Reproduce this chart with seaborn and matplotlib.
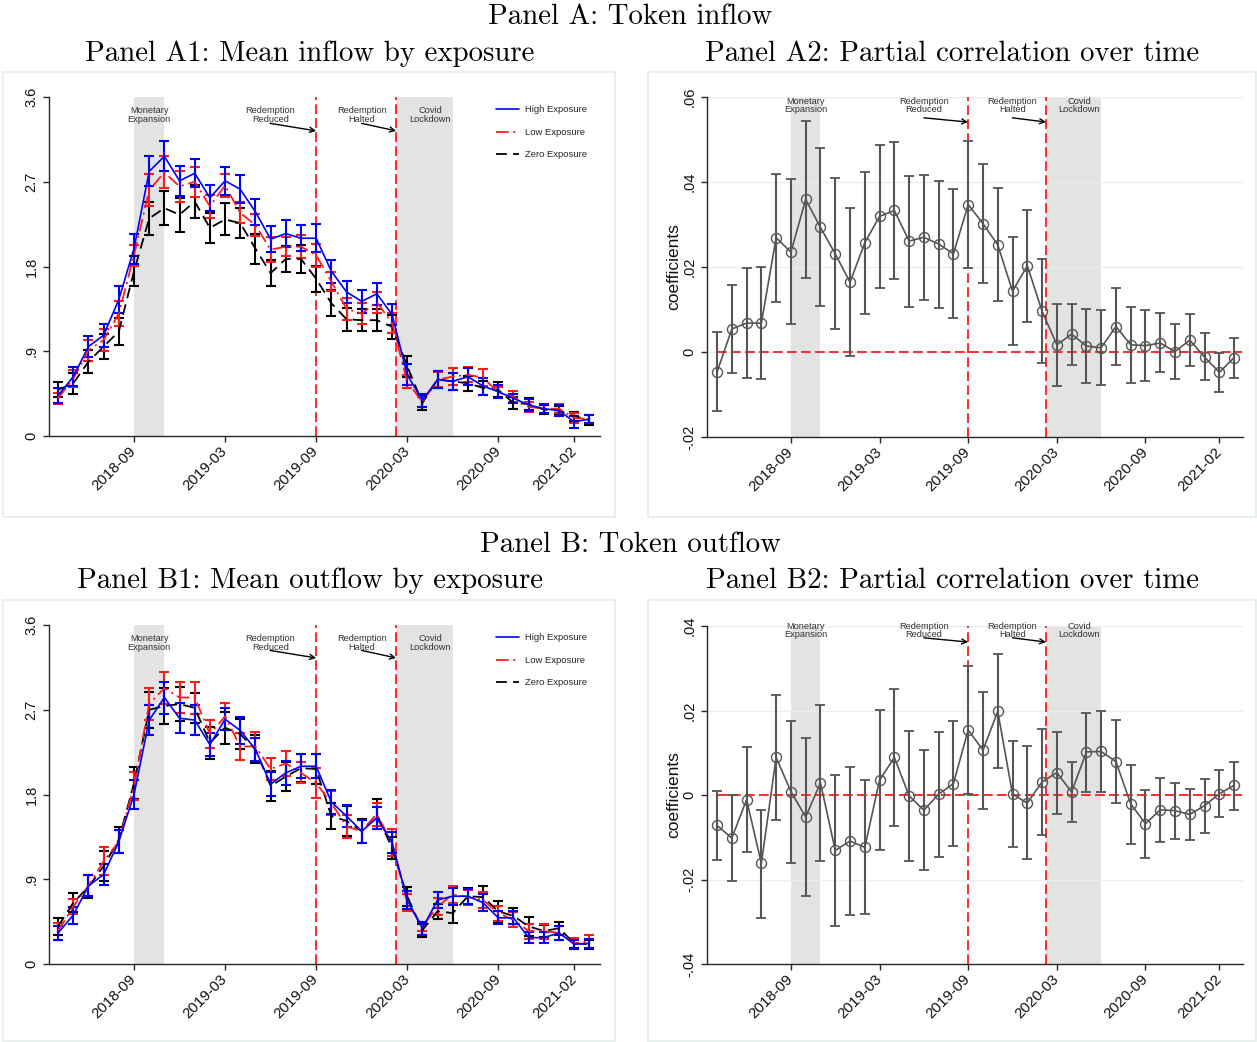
import numpy as np
import pandas as pd
import matplotlib
matplotlib.use("Agg")
import matplotlib.pyplot as plt
import seaborn as sns
from matplotlib.patches import Rectangle

# ---------------- data ----------------
months = ['2018-04', '2018-05', '2018-06', '2018-07', '2018-08', '2018-09',
          '2018-10', '2018-11', '2018-12', '2019-01', '2019-02', '2019-03',
          '2019-04', '2019-05', '2019-06', '2019-07', '2019-08', '2019-09',
          '2019-10', '2019-11', '2019-12', '2020-01', '2020-02', '2020-03',
          '2020-04', '2020-05', '2020-06', '2020-07', '2020-08', '2020-09',
          '2020-10', '2020-11', '2020-12', '2021-01', '2021-02', '2021-03']
tick_months = ['2018-09', '2019-03', '2019-09', '2020-03', '2020-09', '2021-02']
series_names = ['High Exposure', 'Low Exposure', 'Zero Exposure']

# Panel A1: mean inflow (with 95% CI half-widths)
in_high = [0.43, 0.63, 0.95, 1.07, 1.45, 1.99, 2.81, 2.97, 2.71, 2.79, 2.53, 2.71,
           2.62, 2.38, 2.09, 2.15, 2.10, 2.10, 1.75, 1.53, 1.43, 1.51, 1.29, 0.65,
           0.38, 0.60, 0.58, 0.63, 0.53, 0.47, 0.40, 0.33, 0.29, 0.27, 0.15, 0.18]
in_high_ci = [0.08, 0.10, 0.11, 0.12, 0.14, 0.16, 0.16, 0.16, 0.16, 0.15, 0.14, 0.15,
              0.15, 0.14, 0.14, 0.14, 0.14, 0.15, 0.12, 0.12, 0.12, 0.12, 0.11, 0.11,
              0.07, 0.09, 0.09, 0.09, 0.09, 0.07, 0.05, 0.06, 0.05, 0.06, 0.06, 0.04]
in_low = [0.40, 0.61, 0.91, 1.02, 1.30, 1.92, 2.61, 2.80, 2.65, 2.70, 2.44, 2.66,
          2.37, 2.24, 1.98, 2.01, 2.01, 1.92, 1.64, 1.35, 1.30, 1.42, 1.20, 0.58,
          0.36, 0.60, 0.63, 0.65, 0.62, 0.46, 0.42, 0.31, 0.29, 0.29, 0.19, 0.18]
in_low_ci = [0.06, 0.09, 0.11, 0.12, 0.13, 0.11, 0.17, 0.17, 0.16, 0.16, 0.12, 0.12,
             0.11, 0.12, 0.13, 0.10, 0.12, 0.12, 0.10, 0.12, 0.11, 0.11, 0.11, 0.07,
             0.05, 0.08, 0.09, 0.08, 0.09, 0.06, 0.06, 0.05, 0.05, 0.05, 0.05, 0.04]
in_zero = [0.49, 0.56, 0.79, 0.95, 1.11, 1.75, 2.31, 2.42, 2.35, 2.49, 2.21, 2.30,
           2.26, 1.99, 1.73, 1.88, 1.88, 1.67, 1.41, 1.24, 1.23, 1.23, 1.16, 0.74,
           0.35, 0.60, 0.58, 0.56, 0.51, 0.49, 0.35, 0.34, 0.28, 0.27, 0.21, 0.17]
in_zero_ci = [0.08, 0.11, 0.12, 0.13, 0.14, 0.16, 0.18, 0.18, 0.18, 0.18, 0.16, 0.17,
              0.16, 0.16, 0.14, 0.14, 0.15, 0.14, 0.14, 0.12, 0.12, 0.12, 0.13, 0.11,
              0.07, 0.09, 0.09, 0.08, 0.07, 0.08, 0.06, 0.06, 0.05, 0.05, 0.05, 0.05]

# Panel B1: mean outflow
out_high = [0.33, 0.52, 0.83, 0.95, 1.30, 1.80, 2.59, 2.83, 2.61, 2.59, 2.33, 2.60,
            2.48, 2.28, 1.91, 2.03, 2.10, 2.10, 1.72, 1.57, 1.41, 1.55, 1.29, 0.68,
            0.38, 0.68, 0.72, 0.72, 0.65, 0.49, 0.49, 0.28, 0.28, 0.33, 0.21, 0.22]
out_high_ci = [0.07, 0.09, 0.11, 0.11, 0.12, 0.15, 0.16, 0.17, 0.16, 0.16, 0.12, 0.12,
               0.14, 0.12, 0.13, 0.13, 0.13, 0.13, 0.13, 0.12, 0.12, 0.12, 0.11, 0.10,
               0.07, 0.08, 0.09, 0.08, 0.09, 0.07, 0.07, 0.06, 0.06, 0.07, 0.05, 0.05]
out_low = [0.35, 0.61, 0.83, 1.09, 1.30, 1.89, 2.76, 2.93, 2.83, 2.83, 2.44, 2.63,
           2.31, 2.31, 2.07, 2.13, 2.03, 1.92, 1.71, 1.46, 1.41, 1.59, 1.29, 0.65,
           0.40, 0.61, 0.74, 0.71, 0.68, 0.54, 0.47, 0.35, 0.35, 0.33, 0.22, 0.24]
out_low_ci = [0.09, 0.08, 0.11, 0.15, 0.12, 0.15, 0.17, 0.17, 0.16, 0.17, 0.15, 0.14,
              0.14, 0.15, 0.12, 0.13, 0.11, 0.16, 0.13, 0.12, 0.12, 0.12, 0.14, 0.09,
              0.05, 0.09, 0.09, 0.08, 0.08, 0.08, 0.08, 0.08, 0.08, 0.07, 0.06, 0.07]
out_zero = [0.40, 0.65, 0.82, 1.04, 1.32, 1.92, 2.70, 2.74, 2.76, 2.72, 2.35, 2.51,
            2.44, 2.28, 1.89, 1.99, 2.08, 2.07, 1.57, 1.52, 1.41, 1.59, 1.23, 0.72,
            0.36, 0.56, 0.54, 0.72, 0.71, 0.56, 0.51, 0.40, 0.35, 0.38, 0.22, 0.21]
out_zero_ci = [0.09, 0.10, 0.12, 0.16, 0.14, 0.17, 0.19, 0.19, 0.18, 0.16, 0.17, 0.17,
               0.16, 0.15, 0.16, 0.15, 0.15, 0.16, 0.14, 0.16, 0.13, 0.16, 0.12, 0.10,
               0.07, 0.08, 0.10, 0.09, 0.12, 0.11, 0.08, 0.10, 0.06, 0.07, 0.05, 0.05]

# Panel A2: partial correlation (inflow), coefficient and CI bounds
in_coef = [-0.0047, 0.0054, 0.0068, 0.0068, 0.0269, 0.0235, 0.0359, 0.0293, 0.0231,
           0.0164, 0.0257, 0.0319, 0.0333, 0.0261, 0.0270, 0.0254, 0.0231, 0.0347,
           0.0302, 0.0252, 0.0143, 0.0203, 0.0096, 0.0017, 0.0042, 0.0014, 0.0010,
           0.0060, 0.0017, 0.0015, 0.0021, 0.0001, 0.0028, -0.0012, -0.0048, -0.0013]
in_lo = [-0.0139, -0.0050, -0.0060, -0.0064, 0.0118, 0.0065, 0.0173, 0.0108, 0.0054,
         -0.0010, 0.0090, 0.0150, 0.0171, 0.0107, 0.0122, 0.0103, 0.0081, 0.0198,
         0.0162, 0.0120, 0.0017, 0.0071, -0.0027, -0.0080, -0.0030, -0.0074, -0.0078,
         -0.0030, -0.0072, -0.0068, -0.0048, -0.0063, -0.0033, -0.0067, -0.0094, -0.0060]
in_hi = [0.0046, 0.0157, 0.0197, 0.0200, 0.0418, 0.0408, 0.0544, 0.0479, 0.0409,
         0.0340, 0.0424, 0.0487, 0.0495, 0.0415, 0.0417, 0.0403, 0.0383, 0.0497,
         0.0442, 0.0385, 0.0270, 0.0334, 0.0219, 0.0113, 0.0113, 0.0102, 0.0098,
         0.0150, 0.0105, 0.0099, 0.0092, 0.0065, 0.0090, 0.0044, -0.0003, 0.0032]

# Panel B2: partial correlation (outflow)
out_coef = [-0.0072, -0.0102, -0.0011, -0.0162, 0.0089, 0.0008, -0.0052, 0.0029, -0.0131,
            -0.0109, -0.0124, 0.0035, 0.0089, -0.0002, -0.0036, 0.0002, 0.0027, 0.0154,
            0.0106, 0.0198, 0.0002, -0.0019, 0.0031, 0.0053, 0.0007, 0.0102, 0.0103,
            0.0079, -0.0021, -0.0068, -0.0035, -0.0037, -0.0046, -0.0025, 0.0003, 0.0023]
out_lo = [-0.0154, -0.0203, -0.0134, -0.0290, -0.0058, -0.0160, -0.0239, -0.0157, -0.0309,
          -0.0283, -0.0282, -0.0131, -0.0073, -0.0156, -0.0178, -0.0146, -0.0121, 0.0002,
          -0.0032, 0.0064, -0.0124, -0.0151, -0.0094, -0.0044, -0.0063, 0.0008, 0.0006,
          -0.0020, -0.0116, -0.0150, -0.0111, -0.0103, -0.0106, -0.0089, -0.0051, -0.0035]
out_hi = [0.0009, 0.0000, 0.0113, -0.0035, 0.0237, 0.0176, 0.0135, 0.0214, 0.0048,
          0.0066, 0.0035, 0.0201, 0.0250, 0.0151, 0.0106, 0.0149, 0.0176, 0.0306,
          0.0243, 0.0334, 0.0127, 0.0115, 0.0157, 0.0150, 0.0077, 0.0195, 0.0200,
          0.0178, 0.0072, 0.0013, 0.0040, 0.0029, 0.0015, 0.0038, 0.0058, 0.0077]

# events (month-index positions)
event_labels = ['Monetary\nExpansion', 'Redemption\nReduced', 'Redemption\nHalted', 'Covid\nLockdown']
event_label_x = [6.0, 14.0, 20.0, 24.5]
event_lines = [17.0, 22.27]
shade_spans = [(5.0, 7.0), (22.27, 26.0)]

# ---------------- style ----------------
sns.set_theme(style="white")
plt.rcParams['font.family'] = ['Liberation Sans', 'DejaVu Sans']

W, H = 1257, 1042
fig = plt.figure(figsize=(W / 100, H / 100), dpi=100)
fig.patch.set_facecolor('white')

x = np.arange(len(months))
tick_pos = [months.index(m) for m in tick_months]
AXC = '#262626'
TITLE_FONT = 'cmr10'


def add_ax(l, t, r, b):
    return fig.add_axes([l / W, 1 - b / H, (r - l) / W, (b - t) / H])


def panel_box(l, t, r, b):
    fig.add_artist(Rectangle((l / W, 1 - b / H), (r - l) / W, (b - t) / H,
                             transform=fig.transFigure, fill=False,
                             ec='#e4eded', lw=1.2, zorder=0))


def style_axes(ax, xlim, ylim, yticks, ylabels):
    ax.set_xlim(*xlim)
    ax.set_ylim(*ylim)
    ax.set_yticks(yticks)
    ax.set_yticklabels(ylabels, rotation=90, va='center', fontsize=10.5, color='#111')
    ax.set_xticks(tick_pos)
    ax.set_xticklabels(tick_months, rotation=45, ha='right', va='center',
                       rotation_mode='anchor', fontsize=10.8, color='#111')
    for s in ['top', 'right']:
        ax.spines[s].set_visible(False)
    for s in ['left', 'bottom']:
        ax.spines[s].set_color(AXC)
        ax.spines[s].set_linewidth(1.0)
    ax.tick_params(axis='both', bottom=True, left=True, length=4.5, width=1,
                   color=AXC, direction='out')
    ax.tick_params(axis='x', pad=5)
    ax.tick_params(axis='y', pad=3)
    ax.set_xlabel('')
    ax.set_ylabel('')
    ax.set_facecolor('white')


def add_events(ax, y_text, arrows):
    for a, b in shade_spans:
        ax.axvspan(a, b, color='#e3e3e3', lw=0, zorder=0)
    for xv in event_lines:
        ax.axvline(xv, color='#ff2a2a', lw=1.4, ls=(0, (5, 2.2)), zorder=1)
    for lab, xt in zip(event_labels, event_label_x):
        ax.text(xt, y_text, lab, ha='center', va='center', fontsize=6.7,
                color='#333333', linespacing=0.95, zorder=5)
    for (x0, y0), (x1, y1) in arrows:
        ax.annotate('', xy=(x1, y1), xytext=(x0, y0),
                    arrowprops=dict(arrowstyle='->', color='black', lw=1.0,
                                    shrinkA=0, shrinkB=0, mutation_scale=9),
                    zorder=5)


def mean_panel(ax, high, high_ci, low, low_ci, zero, zero_ci):
    df = pd.DataFrame({'x': x, 'high': high, 'low': low, 'zero': zero})
    specs = [
        ('zero', zero_ci, 'black', (0, (6, 3.5)), series_names[2], 1.3),
        ('low', low_ci, '#ff1a1a', (0, (7, 2.5, 1.2, 2.5)), series_names[1], 1.3),
        ('high', high_ci, '#0000ff', '-', series_names[0], 1.2),
    ]
    for col, ci, color, ls, label, lw in specs:
        ax.errorbar(df['x'], df[col], yerr=ci, fmt='none', ecolor=color,
                    elinewidth=1.5, capsize=3.6, capthick=1.5, zorder=3)
        sns.lineplot(data=df, x='x', y=col, ax=ax, color=color, lw=lw,
                     linestyle=ls, label=label, errorbar=None, zorder=4)
    style_axes(ax, (-0.6, 35.7), (0, 3.6), [0, 0.9, 1.8, 2.7, 3.6],
               ['0', '.9', '1.8', '2.7', '3.6'])
    handles, labels = ax.get_legend_handles_labels()
    order = [labels.index(n) for n in series_names]
    ax.legend([handles[i] for i in order], [labels[i] for i in order],
              loc='upper left', bbox_to_anchor=(0.812, 0.975), frameon=False,
              fontsize=6.8, handlelength=2.4, handletextpad=0.6,
              labelspacing=1.42, borderaxespad=0, borderpad=0)


def coef_panel(ax, coef, lo, hi, ylim, yticks, ylabels):
    coef = np.asarray(coef)
    lo = np.asarray(lo)
    hi = np.asarray(hi)
    df = pd.DataFrame({'x': x, 'coef': coef})
    ax.grid(axis='y', color='#e7efef', lw=1.0)
    ax.set_axisbelow(True)
    ax.hlines(0, 0, 35.55, color='#ff2a2a', lw=1.4, linestyles=[(0, (5, 2.2))], zorder=2)
    ax.errorbar(df['x'], df['coef'], yerr=[coef - lo, hi - coef], fmt='none',
                ecolor='#555555', elinewidth=1.5, capsize=3.3, capthick=1.3, zorder=3)
    sns.lineplot(data=df, x='x', y='coef', ax=ax, color='#555555', lw=1.2,
                 marker='o', markersize=7.2, markerfacecolor='none',
                 markeredgecolor='#555555', markeredgewidth=1.0,
                 errorbar=None, zorder=4)
    style_axes(ax, (-0.68, 35.6), ylim, yticks, ylabels)
    ax.set_ylabel('coefficients', fontsize=12.5, color='#111', labelpad=1)


# ---------------- layout ----------------
panel_box(3, 72, 615, 517)
panel_box(648, 72, 1256, 517)
panel_box(3, 600, 615, 1041)
panel_box(648, 600, 1256, 1041)

tkw = dict(ha='center', va='center', family=TITLE_FONT, fontsize=20.8, color='black')
fig.text(630 / W, 1 - 17 / H, 'Panel A: Token inflow', **tkw)
fig.text(310 / W, 1 - 54 / H, 'Panel A1: Mean inflow by exposure', **tkw)
fig.text(952 / W, 1 - 54 / H, 'Panel A2: Partial correlation over time', **tkw)
fig.text(630 / W, 1 - 545 / H, 'Panel B: Token outflow', **tkw)
fig.text(310 / W, 1 - 581 / H, 'Panel B1: Mean outflow by exposure', **tkw)
fig.text(952 / W, 1 - 581 / H, 'Panel B2: Partial correlation over time', **tkw)

axA1 = add_ax(49, 97, 600, 436)
add_events(axA1, 3.41, [((13.97, 3.32), (17.0, 3.24)), ((20.0, 3.32), (22.27, 3.24))])
mean_panel(axA1, in_high, in_high_ci, in_low, in_low_ci, in_zero, in_zero_ci)

axA2 = add_ax(707, 97, 1243, 437)
add_events(axA2, 0.058, [((14.0, 0.0551), (17.0, 0.0541)), ((20.0, 0.0551), (22.27, 0.0541))])
coef_panel(axA2, in_coef, in_lo, in_hi, (-0.02, 0.06), [-0.02, 0, 0.02, 0.04, 0.06],
           ['-.02', '0', '.02', '.04', '.06'])

axB1 = add_ax(49, 625, 600, 964)
add_events(axB1, 3.41, [((13.97, 3.33), (17.0, 3.25)), ((20.0, 3.33), (22.27, 3.25))])
mean_panel(axB1, out_high, out_high_ci, out_low, out_low_ci, out_zero, out_zero_ci)

axB2 = add_ax(707, 626, 1243, 964)
add_events(axB2, 0.0389, [((14.0, 0.0372), (17.0, 0.0362)), ((20.0, 0.0372), (22.27, 0.0362))])
coef_panel(axB2, out_coef, out_lo, out_hi, (-0.04, 0.04), [-0.04, -0.02, 0, 0.02, 0.04],
           ['-.04', '-.02', '0', '.02', '.04'])

fig.savefig('out.png', dpi=100, facecolor='white')
